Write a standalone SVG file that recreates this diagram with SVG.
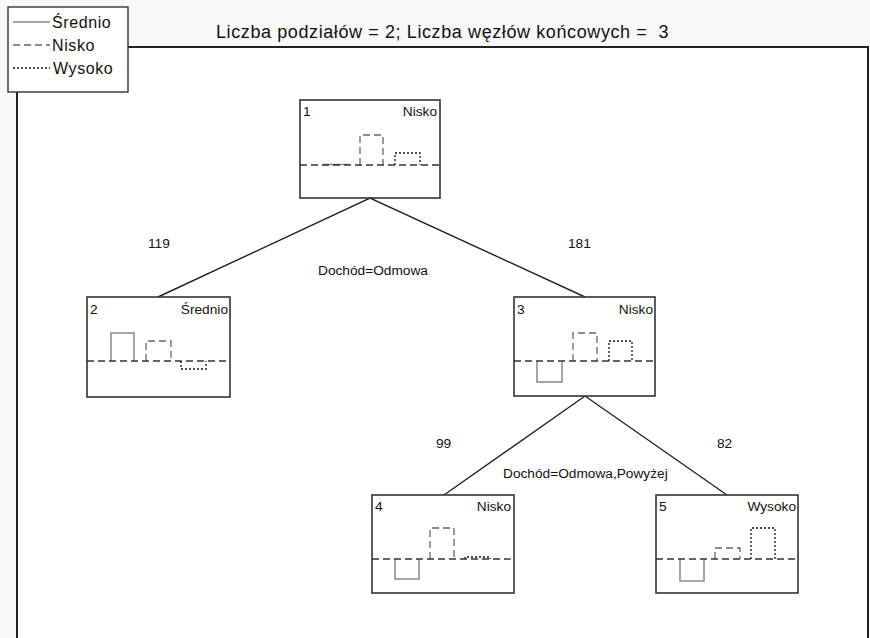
<svg xmlns="http://www.w3.org/2000/svg" width="870" height="638" viewBox="0 0 870 638">
<style>
text{font-family:"Liberation Sans",Arial,sans-serif;fill:#111;}
.t{font-size:18px;letter-spacing:0.6px;}
.l{font-size:16px;letter-spacing:0.6px;}
.n{font-size:13.7px;}
.box{fill:#fff;stroke:#333;stroke-width:1.6;}
.base{stroke:#333;stroke-width:1.3;stroke-dasharray:7,4;fill:none;}
.sr{fill:none;stroke:#888;stroke-width:1.5;}
.ni{fill:none;stroke:#666;stroke-width:1.3;stroke-dasharray:7,4;}
.wy{fill:none;stroke:#111;stroke-width:1.3;stroke-dasharray:2,2;}
.edge{stroke:#222;stroke-width:1.4;fill:none;}
</style>
<rect width="870" height="638" fill="#f8f8f8"/>
<rect x="17" y="47" width="851" height="600" fill="#fff"/>
<path d="M17,638 V47 H868 V638" fill="none" stroke="#222" stroke-width="2"/>
<text class="t" x="216" y="38" xml:space="preserve">Liczba podziałów = 2; Liczba węzłów końcowych =  3</text>
<g id="legend">
<rect x="8" y="7" width="120" height="85" fill="#fff" stroke="#333" stroke-width="1.4"/>
<line x1="13" y1="22" x2="50" y2="22" class="sr"/>
<text class="l" x="52" y="28">Średnio</text>
<line x1="13" y1="45" x2="50" y2="45" class="ni"/>
<text class="l" x="52" y="51">Nisko</text>
<line x1="13" y1="68" x2="50" y2="68" class="wy"/>
<text class="l" x="53" y="74">Wysoko</text>
</g>
<g id="connectors">
<path class="edge" d="M158,297 L370,198 L585,297"/>
<path class="edge" d="M444,495 L585,396 L727,495"/>
<text class="n" x="148" y="248">119</text>
<text class="n" x="568" y="248">181</text>
<text class="n" x="318" y="275">Dochód=Odmowa</text>
<text class="n" x="436" y="448">99</text>
<text class="n" x="717" y="448">82</text>
<text class="n" x="503" y="478">Dochód=Odmowa,Powyżej</text>
</g>
<g id="node1">
<rect class="box" x="300" y="100" width="140" height="98"/>
<text class="n" x="303" y="116">1</text>
<text class="n" x="437" y="116" text-anchor="end">Nisko</text>
<path class="sr" d="M323,164.5 H349"/>
<path class="ni" d="M360,165 V135 H383 V165"/>
<path class="wy" d="M395,165 V153 H420 V165"/>
<line class="base" x1="300" y1="165" x2="440" y2="165"/>
</g>
<g id="node2">
<rect class="box" x="87" y="297" width="143" height="100"/>
<text class="n" x="90" y="314">2</text>
<text class="n" x="228" y="314" text-anchor="end">Średnio</text>
<path class="sr" d="M111,361 V333 H134 V361"/>
<path class="ni" d="M146,361 V341 H171 V361"/>
<path class="wy" d="M181,361 V369 H206 V361"/>
<line class="base" x1="87" y1="361" x2="230" y2="361"/>
</g>
<g id="node3">
<rect class="box" x="514" y="297" width="141" height="99"/>
<text class="n" x="517" y="314">3</text>
<text class="n" x="653" y="314" text-anchor="end">Nisko</text>
<path class="sr" d="M537,361 V382 H562 V361"/>
<path class="ni" d="M573,361 V333 H597 V361"/>
<path class="wy" d="M609,361 V341 H632 V361"/>
<line class="base" x1="514" y1="361" x2="655" y2="361"/>
</g>
<g id="node4">
<rect class="box" x="372" y="495" width="142" height="98"/>
<text class="n" x="375" y="511">4</text>
<text class="n" x="511" y="511" text-anchor="end">Nisko</text>
<path class="sr" d="M395,559 V579 H419 V559"/>
<path class="ni" d="M430,559 V528 H454 V559"/>
<path class="wy" d="M465,559 V557 H490 V559"/>
<line class="base" x1="372" y1="559" x2="514" y2="559"/>
</g>
<g id="node5">
<rect class="box" x="656" y="495" width="142" height="98"/>
<text class="n" x="659" y="511">5</text>
<text class="n" x="796" y="511" text-anchor="end">Wysoko</text>
<path class="sr" d="M680,559 V581 H704 V559"/>
<path class="ni" d="M715,559 V548 H740 V559"/>
<path class="wy" d="M751,559 V528 H775 V559"/>
<line class="base" x1="656" y1="559" x2="798" y2="559"/>
</g>
</svg>
